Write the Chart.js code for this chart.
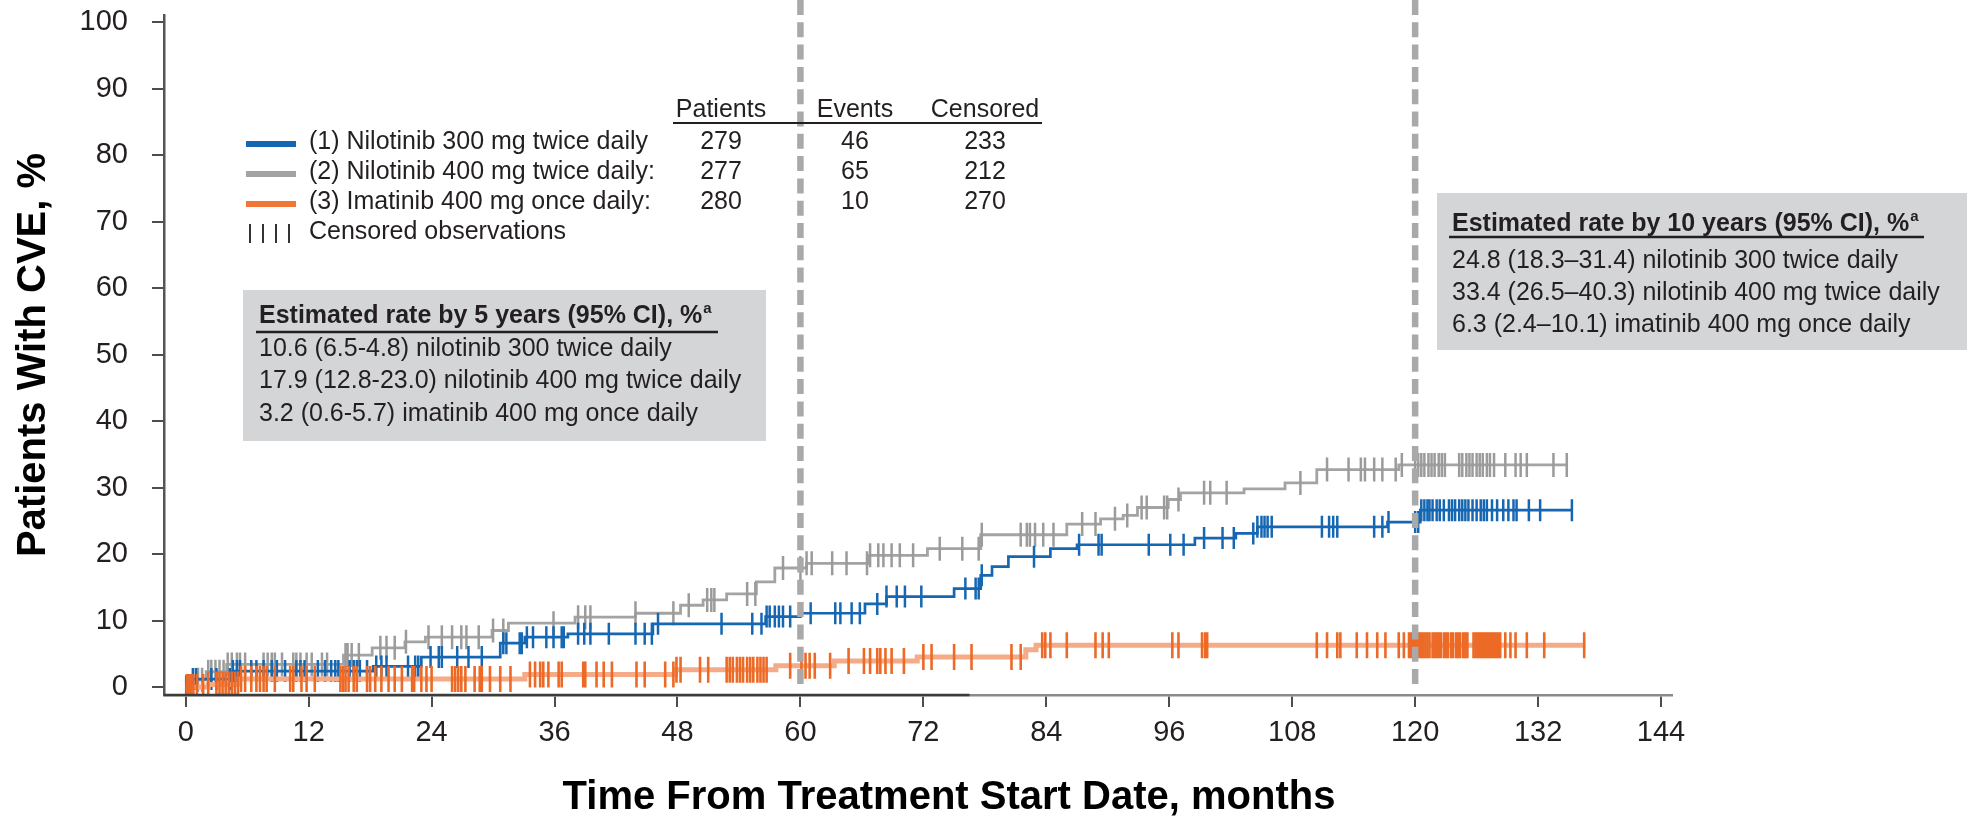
<!DOCTYPE html>
<html>
<head>
<meta charset="utf-8">
<script src="https://cdn.jsdelivr.net/npm/chart.js@4.4.0/dist/chart.umd.min.js"></script>
<style>
  html, body { margin: 0; padding: 0; background: #ffffff; }
  canvas { display: block; }
</style>
</head>
<body>
<canvas id="cve" width="1967" height="821"></canvas>
<script>
// ---- axis ticks and reference times (months) ----
const xTicks = [0, 12, 24, 36, 48, 60, 72, 84, 96, 108, 120, 132, 144];
const yTicks = [0, 10, 20, 30, 40, 50, 60, 70, 80, 90, 100];
const referenceMonths = [60, 120];

// ---- legend / summary table ----
const seriesNames = [
  '(1) Nilotinib 300 mg twice daily',
  '(2) Nilotinib 400 mg twice daily:',
  '(3) Imatinib 400 mg once daily:'
];
const tableHeaders = ['Patients', 'Events', 'Censored'];
const patients = [279, 277, 280];
const events = [46, 65, 10];
const censoredCounts = [233, 212, 270];
const censorLegendLabel = 'Censored observations';

// ---- estimated-rate panels ----
const fiveYearTitle = 'Estimated rate by 5 years (95% CI), %';
const fiveYearRows = [
  '10.6 (6.5-4.8) nilotinib 300 twice daily',
  '17.9 (12.8-23.0) nilotinib 400 mg twice daily',
  '3.2 (0.6-5.7) imatinib 400 mg once daily'
];
const tenYearTitle = 'Estimated rate by 10 years (95% CI), %';
const tenYearRows = [
  '24.8 (18.3\u201331.4) nilotinib 300 twice daily',
  '33.4 (26.5\u201340.3) nilotinib 400 mg twice daily',
  '6.3 (2.4\u201310.1) imatinib 400 mg once daily'
];
const footnoteMark = 'a';

const xTitle = 'Time From Treatment Start Date, months';
const yTitle = 'Patients With CVE, %';

// ---- cumulative incidence steps: [month, % with CVE after the step] ----
const nilo300Steps = [
  [0, 0], [0.4, 1.2], [4.6, 2.4], [18.3, 3.1], [23.0, 4.5], [30.7, 6.6], [33.1, 7.5],
  [37.3, 8.0], [45.6, 9.5], [56.6, 10.6], [60.0, 11.1], [66.3, 12.5], [68.4, 13.6],
  [75.0, 14.8], [77.6, 16.8], [78.7, 18.1], [80.3, 19.6], [84.4, 20.8], [87.0, 21.4],
  [98.5, 22.4], [102.5, 23.1], [104.6, 24.1], [117.3, 24.8], [120.5, 26.6]
];
const nilo400Steps = [
  [0, 0], [1.0, 1.1], [2.0, 2.3], [4.0, 3.4], [15.4, 4.8], [18.2, 5.9], [21.4, 6.8],
  [23.4, 7.5], [29.9, 8.5], [31.5, 9.6], [38.0, 10.5], [43.9, 11.1], [48.3, 12.3],
  [50.5, 13.1], [52.8, 14.0], [55.7, 15.8], [57.5, 17.9], [60.6, 18.6], [66.7, 19.8],
  [72.4, 20.8], [77.6, 22.9], [86.0, 24.5], [89.3, 25.3], [91.5, 25.8], [92.9, 27.0],
  [95.9, 28.2], [97.1, 29.2], [103.3, 29.8], [107.3, 30.7], [110.4, 32.7], [118.4, 33.4]
];
const imaSteps = [
  [0, 0], [2.2, 0.4], [5.2, 1.2], [33.1, 1.9], [47.8, 2.6], [57.6, 3.2], [63.3, 3.9],
  [71.4, 4.5], [82.0, 5.6], [83.0, 6.3]
];
// last follow-up month of each arm: nilotinib 300, nilotinib 400, imatinib
const lastFollowUp = [135.3, 134.9, 136.6];

// ---- censoring times (months) ----
const nilo300Censored = [
  0.05, 0.35, 0.7, 1.0, 2.5, 3.0, 4.3, 4.6, 5.0, 5.3, 6.4, 6.9, 7.6, 8.4, 8.9, 9.7, 10.8,
  11.2, 11.6, 12.9, 13.6, 14.2, 14.6, 14.9, 16.0, 16.4, 16.7, 17.0, 17.7, 18.6, 19.1,
  19.6, 21.7, 22.4, 22.7, 23.9, 24.7, 25.0, 26.5, 27.6, 28.9, 31.0, 31.3, 32.6, 32.8,
  33.3, 33.9, 35.2, 35.9, 36.7, 36.9, 38.3, 38.9, 39.5, 41.3, 43.9, 44.8, 45.5, 46.1,
  52.3, 55.3, 56.2, 56.7, 57.0, 57.5, 57.9, 58.3, 59.0, 61.0, 63.4, 63.9, 65.0, 65.8,
  67.5, 68.4, 69.4, 70.2, 71.8, 76.1, 77.1, 77.4, 77.7, 82.8, 87.2, 89.1, 89.4, 94.0,
  96.1, 97.4, 99.4, 101.2, 102.3, 104.2, 104.6, 105.0, 105.3, 105.6, 106.0, 110.9,
  111.6, 112.0, 112.4, 116.0, 116.8, 117.4, 120.0, 120.3, 120.6, 120.9, 121.2, 121.4,
  121.7, 122.1, 122.4, 122.8, 123.3, 123.6, 123.9, 124.3, 124.6, 124.9, 125.2, 125.6,
  126.0, 126.4, 126.7, 127.0, 127.5, 128.0, 128.6, 129.1, 129.6, 129.9, 131.1, 132.2,
  135.3
];
const nilo400Censored = [
  0.05, 0.3, 1.2, 1.6, 2.2, 2.5, 2.9, 3.3, 3.7, 4.1, 4.5, 5.0, 5.3, 5.8, 7.6, 8.0, 8.4,
  8.7, 9.4, 10.5, 10.8, 11.2, 11.8, 12.3, 13.3, 13.8, 15.6, 15.8, 16.2, 16.9, 19.0,
  19.6, 20.4, 21.5, 23.7, 25.0, 26.0, 26.9, 27.4, 28.6, 30.0, 31.0, 35.9, 38.3, 39.0,
  39.5, 43.9, 47.6, 49.1, 50.9, 51.3, 51.6, 54.8, 55.6, 58.3, 60.0, 60.6, 61.1, 63.1,
  64.5, 66.5, 66.8, 67.6, 68.1, 68.9, 69.7, 71.0, 73.6, 75.8, 77.4, 77.7, 81.5, 82.1,
  82.4, 82.9, 83.7, 84.7, 87.5, 88.8, 90.7, 91.9, 93.3, 93.8, 95.5, 95.8, 96.9, 99.4,
  100.0, 101.6, 108.8, 111.4, 113.5, 114.7, 115.1, 116.0, 116.8, 118.1, 118.7, 120.0,
  120.3, 120.6, 120.9, 121.3, 121.6, 121.9, 122.3, 122.6, 122.9, 124.3, 124.6, 125.0,
  125.3, 125.6, 126.0, 126.3, 126.6, 127.0, 127.3, 127.7, 128.8, 129.8, 130.3, 130.9,
  133.5, 134.8
];
const imaCensored = [
  0.1, 0.3, 0.5, 0.75, 1.1, 1.7, 2.2, 3.0, 3.3, 3.6, 3.9, 4.2, 4.5, 4.8, 5.1, 5.4, 5.8,
  6.4, 6.9, 7.25, 7.6, 7.9, 8.7, 10.2, 10.5, 11.3, 11.8, 12.6, 15.1, 15.35, 15.6, 15.9,
  16.4, 16.7, 17.7, 18.0, 18.5, 19.1, 19.8, 20.4, 21.1, 22.1, 22.3, 23.0, 23.5, 24.0,
  26.0, 26.3, 26.6, 26.9, 27.3, 28.2, 28.7, 28.9, 29.7, 30.7, 31.7, 33.6, 34.1, 34.6,
  34.9, 35.4, 36.4, 36.7, 38.8, 39.0, 40.1, 40.8, 41.6, 44.0, 44.8, 46.8, 47.6, 47.9,
  48.3, 50.2, 51.0, 52.8, 53.1, 53.4, 53.8, 54.1, 54.4, 54.8, 55.1, 55.4, 55.8, 56.1,
  56.4, 56.7, 59.0, 60.1, 60.5, 60.9, 61.4, 62.9, 64.7, 66.2, 66.8, 67.5, 67.8, 68.3,
  68.9, 70.1, 72.0, 72.8, 75.0, 76.7, 80.6, 81.5, 83.6, 83.9, 84.4, 86.0, 88.8, 89.5,
  90.1, 96.3, 96.9, 99.2, 99.5, 99.7, 110.4, 111.4, 112.4, 112.7, 114.3, 115.3, 116.3,
  117.1, 118.4, 118.9, 119.4, 119.6, 119.8, 120.0, 120.2, 120.4, 120.6, 120.8, 121.0,
  121.2, 121.4, 121.7, 121.9, 122.1, 122.3, 122.5, 122.8, 123.0, 123.2, 123.5, 123.7,
  124.0, 124.2, 124.4, 124.7, 124.9, 125.1, 125.7, 125.9, 126.1, 126.3, 126.5, 126.7,
  126.9, 127.1, 127.3, 127.5, 127.7, 127.9, 128.1, 128.3, 128.8, 129.3, 129.8, 130.9,
  132.6, 136.5
];

// ---- styling ----
const FONT = "'Liberation Sans', Arial, Helvetica, sans-serif";
const INK = '#231f20';
const BLUE = '#1667b2';
const GRAY = '#a3a3a3';
const GRAY_MARK = '#9b9b9b';
const ORANGE_LINE = '#f5ab88';
const ORANGE = '#ec6a26';
const ORANGE_KEY = '#f07536';
const PANEL = '#d4d5d7';

// step curve with a flat tail to the last follow-up
function stepPoints(steps, endMonth) {
  const pts = steps.map(([x, y]) => ({ x, y }));
  pts.push({ x: endMonth, y: steps[steps.length - 1][1] });
  return pts;
}
// censor ticks sit on the curve level in force at that month
function censorPoints(steps, times) {
  return times.map(t => {
    let v = 0;
    for (const [x, y] of steps) { if (x <= t) v = y; }
    return { x: t, y: v };
  });
}

function lineSet(steps, end, color, width, order) {
  return {
    type: 'line', data: stepPoints(steps, end), stepped: 'before',
    borderColor: color, borderWidth: width, pointRadius: 0, fill: false, order
  };
}
function censorSet(steps, times, color, half, width, order) {
  return {
    type: 'scatter', data: censorPoints(steps, times), showLine: false,
    pointStyle: 'line', pointRotation: 90, pointRadius: half, pointHoverRadius: half,
    pointBorderWidth: width, pointBorderColor: color, borderColor: color,
    backgroundColor: color, order
  };
}

// dashed landmark lines, legend, table and rate panels
const overlayPlugin = {
  id: 'overlay',
  afterDatasetsDraw(chart) {
    const { ctx, scales: { x, y } } = chart;
    ctx.save();
    ctx.strokeStyle = '#a9a9a9';
    ctx.lineWidth = 6.5;
    ctx.setLineDash([15, 7.3]);
    referenceMonths.forEach(m => {
      const px = x.getPixelForValue(m);
      ctx.beginPath();
      ctx.moveTo(px, 0);
      ctx.lineTo(px, y.getPixelForValue(0) + 1);
      ctx.stroke();
    });
    ctx.restore();
  },
  afterDraw(chart) {
    const ctx = chart.ctx;
    const { chartArea, scales: { x } } = chart;
    ctx.save();

    // darker run of the time axis rule
    ctx.strokeStyle = '#3c3c3c';
    ctx.lineWidth = 2.5;
    ctx.beginPath();
    ctx.moveTo(chartArea.left, chartArea.bottom);
    ctx.lineTo(x.getPixelForValue(76.5), chartArea.bottom);
    ctx.stroke();

    ctx.fillStyle = INK;
    ctx.strokeStyle = INK;

    // legend keys
    const rows = [142, 172, 202, 232];
    const keyColors = [BLUE, GRAY, ORANGE_KEY];
    ctx.lineWidth = 6;
    keyColors.forEach((c, i) => {
      ctx.strokeStyle = c;
      ctx.beginPath();
      ctx.moveTo(246, rows[i] + 2);
      ctx.lineTo(296, rows[i] + 2);
      ctx.stroke();
    });
    ctx.strokeStyle = '#333333';
    ctx.lineWidth = 2;
    [250, 263, 276, 289].forEach(px => {
      ctx.beginPath();
      ctx.moveTo(px, rows[3] - 8);
      ctx.lineTo(px, rows[3] + 11);
      ctx.stroke();
    });
    ctx.font = `25px ${FONT}`;
    ctx.textBaseline = 'middle';
    ctx.textAlign = 'left';
    seriesNames.forEach((s, i) => ctx.fillText(s, 309, rows[i]));
    ctx.fillText(censorLegendLabel, 309, rows[3]);

    // summary table
    const cols = [721, 855, 985];
    ctx.textAlign = 'center';
    tableHeaders.forEach((h, i) => ctx.fillText(h, cols[i], 110));
    ctx.strokeStyle = INK;
    ctx.lineWidth = 2;
    ctx.beginPath();
    ctx.moveTo(673, 123);
    ctx.lineTo(1042, 123);
    ctx.stroke();
    [patients, events, censoredCounts].forEach((col, j) => {
      col.forEach((v, i) => ctx.fillText(String(v), cols[j], rows[i]));
    });

    // rate panels
    function panel(bx, by, bw, bh, title, lines, tx, titleY, ruleY, ruleEnd, firstRow, step) {
      ctx.fillStyle = PANEL;
      ctx.fillRect(bx, by, bw, bh);
      ctx.fillStyle = INK;
      ctx.textAlign = 'left';
      ctx.textBaseline = 'middle';
      ctx.font = `bold 25px ${FONT}`;
      ctx.fillText(title, tx, titleY);
      const w = ctx.measureText(title).width;
      ctx.font = `bold 15px ${FONT}`;
      ctx.fillText(footnoteMark, tx + w + 1, titleY - 7);
      ctx.strokeStyle = INK;
      ctx.lineWidth = 2.5;
      ctx.beginPath();
      ctx.moveTo(tx - 3, ruleY);
      ctx.lineTo(ruleEnd, ruleY);
      ctx.stroke();
      ctx.font = `25px ${FONT}`;
      lines.forEach((l, i) => ctx.fillText(l, tx, firstRow + i * step));
    }
    panel(243, 290, 523, 151, fiveYearTitle, fiveYearRows, 259, 316, 332, 718, 349, 32.5);
    panel(1437, 193, 530, 157, tenYearTitle, tenYearRows, 1452, 224, 237, 1924, 261, 32);

    // axis titles
    ctx.fillStyle = '#000000';
    ctx.font = `bold 40px ${FONT}`;
    ctx.textAlign = 'center';
    ctx.textBaseline = 'middle';
    ctx.fillText(xTitle, 949, 798);
    ctx.translate(34, 355);
    ctx.rotate(-Math.PI / 2);
    ctx.fillText(yTitle, 0, 0);
    ctx.restore();
  }
};

const X_MIN = -2.118, X_MAX = 145.07;
const Y_MIN = -1.197, Y_MAX = 100.97;

new Chart(document.getElementById('cve'), {
  data: {
    datasets: [
      lineSet(nilo400Steps, lastFollowUp[1], GRAY, 2.8, 6),
      censorSet(nilo400Steps, nilo400Censored, GRAY_MARK, 12, 2.5, 5),
      lineSet(nilo300Steps, lastFollowUp[0], BLUE, 2.7, 4),
      censorSet(nilo300Steps, nilo300Censored, BLUE, 11, 2.5, 3),
      lineSet(imaSteps, lastFollowUp[2], ORANGE_LINE, 5, 2),
      censorSet(imaSteps, imaCensored, ORANGE, 13, 2.6, 1)
    ]
  },
  options: {
    responsive: false,
    animation: false,
    devicePixelRatio: 1,
    events: [],
    layout: { padding: { left: 0, right: 295, top: 12, bottom: 0 } },
    plugins: { legend: { display: false }, tooltip: { enabled: false } },
    scales: {
      x: {
        type: 'linear', min: X_MIN, max: X_MAX,
        afterBuildTicks: s => { s.ticks = xTicks.map(v => ({ value: v })); },
        afterFit: s => { s.height = 126; s.paddingLeft = 0; s.paddingRight = 0; },
        ticks: { font: { family: FONT, size: 29 }, color: INK, padding: 9, maxRotation: 0, autoSkip: false },
        grid: { drawOnChartArea: false, drawTicks: true, tickLength: 12, color: '#4d4d4d', lineWidth: 2 },
        border: { display: true, color: '#8a8a8a', width: 2.5 }
      },
      y: {
        type: 'linear', min: Y_MIN, max: Y_MAX,
        afterBuildTicks: s => { s.ticks = yTicks.map(v => ({ value: v })); },
        afterFit: s => { s.width = 164; s.paddingTop = 0; s.paddingBottom = 0; },
        ticks: { font: { family: FONT, size: 29 }, color: INK, padding: 24 },
        grid: { drawOnChartArea: false, drawTicks: true, tickLength: 12, color: '#4d4d4d', lineWidth: 2 },
        border: { display: true, color: '#555555', width: 2.5 }
      }
    }
  },
  plugins: [overlayPlugin]
});
</script>
</body>
</html>
